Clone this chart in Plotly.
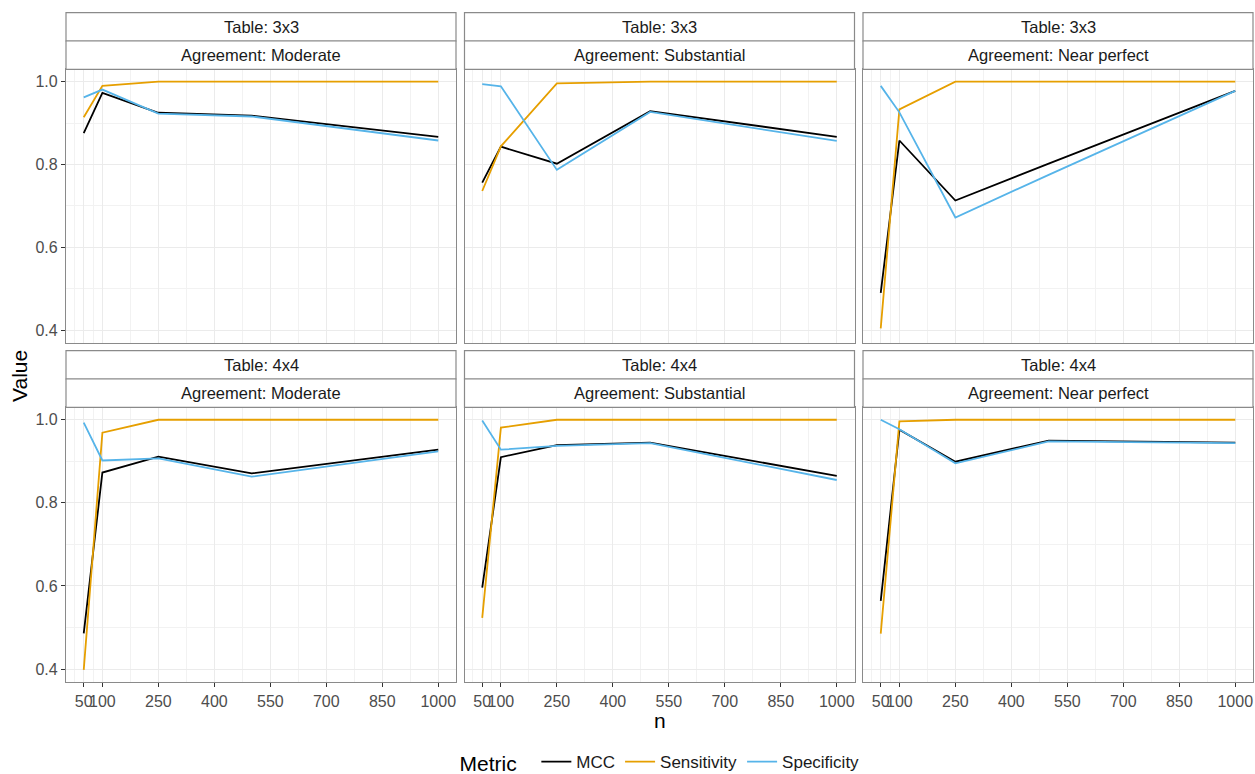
import plotly.graph_objects as go

# ---------------- data ----------------
n_values = [50, 100, 250, 500, 1000]
tables = ["3x3", "4x4"]
agreements = ["Moderate", "Substantial", "Near perfect"]
metrics = ["MCC", "Sensitivity", "Specificity"]

# 3x3
mcc_3x3_moderate = [0.876, 0.973, 0.925, 0.918, 0.867]
sens_3x3_moderate = [0.914, 0.990, 1.000, 1.000, 1.000]
spec_3x3_moderate = [0.962, 0.981, 0.923, 0.916, 0.858]

mcc_3x3_substantial = [0.756, 0.843, 0.802, 0.929, 0.867]
sens_3x3_substantial = [0.736, 0.844, 0.996, 1.000, 1.000]
spec_3x3_substantial = [0.994, 0.989, 0.787, 0.927, 0.857]

mcc_3x3_nearperfect = [0.490, 0.858, 0.713, 0.802, 0.978]
sens_3x3_nearperfect = [0.404, 0.933, 1.000, 1.000, 1.000]
spec_3x3_nearperfect = [0.990, 0.926, 0.672, 0.775, 0.978]

# 4x4
mcc_4x4_moderate = [0.486, 0.873, 0.911, 0.871, 0.928]
sens_4x4_moderate = [0.398, 0.969, 1.000, 1.000, 1.000]
spec_4x4_moderate = [0.993, 0.902, 0.907, 0.863, 0.924]

mcc_4x4_substantial = [0.596, 0.910, 0.939, 0.945, 0.865]
sens_4x4_substantial = [0.523, 0.981, 1.000, 1.000, 1.000]
spec_4x4_substantial = [0.998, 0.928, 0.937, 0.944, 0.855]

mcc_4x4_nearperfect = [0.564, 0.976, 0.899, 0.950, 0.945]
sens_4x4_nearperfect = [0.485, 0.996, 1.000, 1.000, 1.000]
spec_4x4_nearperfect = [1.000, 0.977, 0.895, 0.948, 0.944]

x_ticks = [50, 100, 250, 400, 550, 700, 850, 1000]
x_minor = [25, 75, 175, 325, 475, 625, 775, 925]
y_ticks = [0.4, 0.6, 0.8, 1.0]
y_ticklabels = ["0.4", "0.6", "0.8", "1.0"]
y_minor = [0.5, 0.7, 0.9]

panels = {
    ("3x3", "Moderate"): [mcc_3x3_moderate, sens_3x3_moderate, spec_3x3_moderate],
    ("3x3", "Substantial"): [mcc_3x3_substantial, sens_3x3_substantial, spec_3x3_substantial],
    ("3x3", "Near perfect"): [mcc_3x3_nearperfect, sens_3x3_nearperfect, spec_3x3_nearperfect],
    ("4x4", "Moderate"): [mcc_4x4_moderate, sens_4x4_moderate, spec_4x4_moderate],
    ("4x4", "Substantial"): [mcc_4x4_substantial, sens_4x4_substantial, spec_4x4_substantial],
    ("4x4", "Near perfect"): [mcc_4x4_nearperfect, sens_4x4_nearperfect, spec_4x4_nearperfect],
}

colors = {"MCC": "#000000", "Sensitivity": "#E69F00", "Specificity": "#56B4E9"}

# ---------------- layout geometry (pixels) ----------------
W, H = 1255, 774
col_x = [(66, 456), (464.5, 854.5), (863, 1253)]
row_plot = [(69.3, 343.3), (407.3, 682.3)]
strip_h = 28.3
border = "#8A8A8A"
FONT = "Liberation Sans, Arial, Helvetica, sans-serif"

def px(x):
    return x / W

def py(y):
    return 1 - y / H

fig = go.Figure()
shapes = []
annotations = []

for r, tab in enumerate(tables):
    for c, agr in enumerate(agreements):
        idx = r * 3 + c + 1
        xa = "x" if idx == 1 else f"x{idx}"
        ya = "y" if idx == 1 else f"y{idx}"
        vals = panels[(tab, agr)]
        for m, v in zip(metrics, vals):
            fig.add_trace(go.Scatter(
                x=n_values, y=v, mode="lines", name=m,
                line=dict(color=colors[m], width=1.8),
                xaxis=xa, yaxis=ya, legendgroup=m,
                showlegend=(idx == 1),
            ))
        x0, x1 = col_x[c]
        y0, y1 = row_plot[r]
        common = dict(
            showline=True, linecolor=border, linewidth=1.2, mirror=True,
            showgrid=True, gridcolor="#EBEBEB", gridwidth=1.1, zeroline=False,
            ticklen=4, tickcolor="#333333", tickwidth=1, automargin=False,
            tickfont=dict(size=16, color="#4D4D4D", family=FONT),
        )
        fig.layout[f"xaxis{idx if idx > 1 else ''}"] = dict(
            domain=[px(x0), px(x1)], anchor=ya, range=[2.5, 1047.5],
            tickmode="array", tickvals=x_ticks, ticktext=[str(t) for t in x_ticks],
            tickangle=0, ticks=("outside" if r == 1 else ""),
            minor=dict(tickvals=x_minor, showgrid=True, gridcolor="#F2F2F2", gridwidth=0.7, ticks=""),
            showticklabels=(r == 1),
            **common,
        )
        fig.layout[f"yaxis{idx if idx > 1 else ''}"] = dict(
            domain=[py(y1), py(y0)], anchor=xa, range=[0.368, 1.03],
            tickmode="array", tickvals=y_ticks, ticktext=y_ticklabels,
            ticks=("outside" if c == 0 else ""),
            minor=dict(tickvals=y_minor, showgrid=True, gridcolor="#F2F2F2", gridwidth=0.7, ticks=""),
            showticklabels=(c == 0),
            **common,
        )
        # strips
        for s, label in enumerate([f"Table: {tab}", f"Agreement: {agr}"]):
            sy0 = y0 - strip_h * (2 - s)
            sy1 = sy0 + strip_h
            shapes.append(dict(type="rect", xref="paper", yref="paper",
                               x0=px(x0), x1=px(x1), y0=py(sy1), y1=py(sy0),
                               fillcolor="white", line=dict(color=border, width=1.2),
                               layer="above"))
            annotations.append(dict(xref="paper", yref="paper", x=px((x0 + x1) / 2),
                                    y=py((sy0 + sy1) / 2), text=label, showarrow=False,
                                    xanchor="center", yanchor="middle",
                                    font=dict(size=16.5, color="#1A1A1A", family=FONT)))

# axis titles
annotations.append(dict(xref="paper", yref="paper", x=px((66 + 1253) / 2), y=py(720),
                        text="n", showarrow=False, xanchor="center", yanchor="middle",
                        font=dict(size=21, color="#000000", family=FONT)))
annotations.append(dict(xref="paper", yref="paper", x=px(19), y=py(376),
                        text="Value", showarrow=False, textangle=-90,
                        xanchor="center", yanchor="middle",
                        font=dict(size=21, color="#000000", family=FONT)))

fig.update_layout(
    width=W, height=H,
    margin=dict(l=0, r=0, t=0, b=0, autoexpand=False),
    paper_bgcolor="white", plot_bgcolor="white",
    shapes=shapes, annotations=annotations,
    showlegend=True,
    legend=dict(
        orientation="h", x=px(661), xanchor="center", y=py(763), yanchor="middle",
        title=dict(text="Metric  ", font=dict(size=21, color="#000000", family=FONT)),
        font=dict(size=17, color="#1A1A1A", family=FONT),
        itemwidth=30, bgcolor="rgba(0,0,0,0)",
    ),
    font=dict(family=FONT),
)

fig.write_html(
    "out.html",
    config={"displayModeBar": False},
    post_script="document.body.style.margin='0';document.body.style.padding='0';document.body.style.overflow='hidden';",
)
